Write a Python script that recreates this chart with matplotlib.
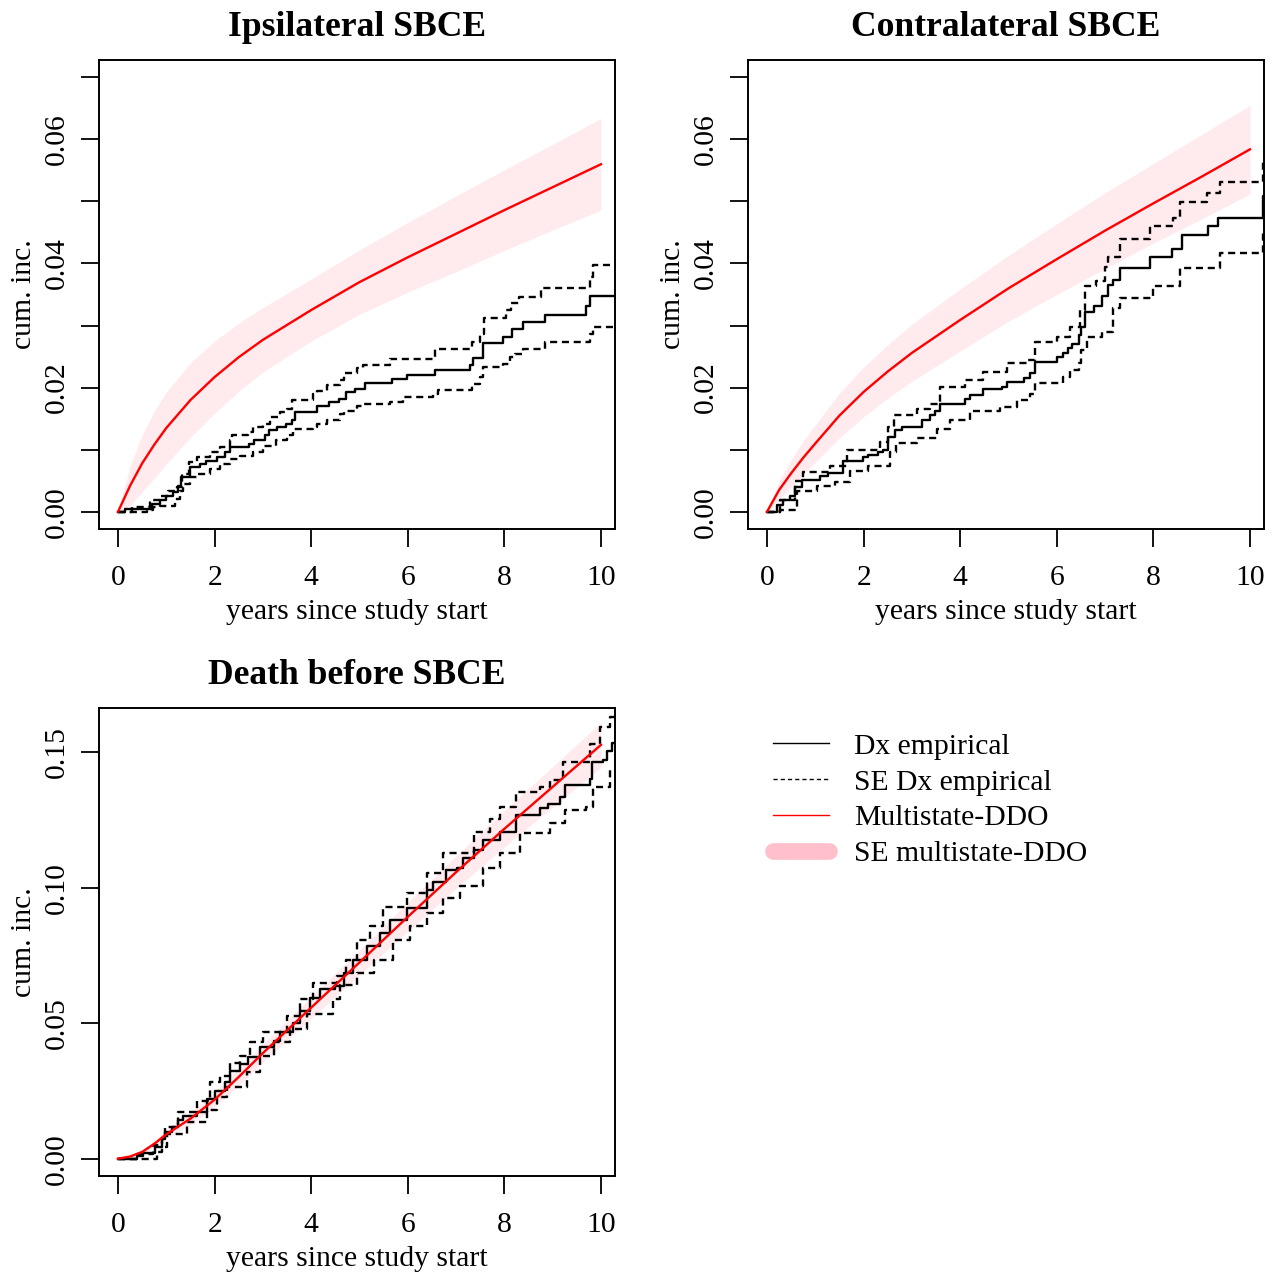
import matplotlib
matplotlib.use("Agg")
import matplotlib.pyplot as plt
from matplotlib.lines import Line2D

plt.rcParams['font.family'] = ['Liberation Serif', 'DejaVu Serif']

# Parametric model curves, common time grid
model_t = [0, 0.25, 0.5, 0.75, 1, 1.5, 2, 2.5, 3, 4, 5, 6, 7, 8, 9, 10]

ipsi_model = [0, .0042, .0078, .0108, .0135, .0180, .0217, .0249, .0277, .0325,
              .0370, .0410, .0448, .0486, .0523, .0560]
ipsi_band_hi = [0, .0074, .0124, .0162, .0193, .0240, .0275, .0304, .0329, .0375,
                .0422, .0466, .0509, .0551, .0592, .0634]
ipsi_band_lo = [0, .0010, .0032, .0054, .0077, .0120, .0159, .0194, .0225, .0275,
                .0318, .0354, .0387, .0421, .0454, .0486]

contra_model = [0, .0035, .0062, .0087, .0110, .0155, .0193, .0226, .0256, .0309,
                .0360, .0407, .0453, .0497, .0540, .0584]
contra_band_hi = [0, .0050, .0084, .0114, .0140, .0191, .0233, .0269, .0302, .0359,
                  .0413, .0464, .0514, .0561, .0608, .0655]
contra_band_lo = [0, .0020, .0040, .0060, .0080, .0119, .0153, .0183, .0210, .0259,
                  .0307, .0350, .0392, .0433, .0472, .0512]

death_model = [0, .0008, .0025, .0055, .0090, .0148, .0218, .0302, .0390, .0558,
               .0725, .0893, .1058, .1218, .1373, .1528]
death_band_hi = [0, .0011, .0032, .0067, .0106, .0170, .0245, .0333, .0424, .0598,
                 .0771, .0946, .1118, .1285, .1448, .1611]
death_band_lo = [0, .0005, .0018, .0043, .0074, .0126, .0191, .0271, .0356, .0518,
                 .0679, .0840, .0998, .1151, .1298, .1445]

# Empirical step curves: jump times and values after each jump
ipsi_t = [0, 0.14, 0.70, 0.87, 1.00, 1.14, 1.24, 1.31, 1.49, 1.69, 1.83, 2.04, 2.21,
          2.32, 2.71, 2.81, 3.05, 3.12, 3.29, 3.47, 3.60, 3.67, 4.12, 4.36, 4.57, 4.71,
          4.91, 5.12, 5.67, 5.98, 6.57, 7.29, 7.35, 7.55, 7.98, 8.15, 8.39, 8.84, 9.69,
          9.77, 10.5]
ipsi_est = [0, .0004, .0012, .0018, .0026, .0031, .0042, .0056, .0072, .0077, .0082,
            .0088, .0096, .0104, .0109, .0115, .0123, .0131, .0136, .0142, .0147, .0161,
            .0171, .0177, .0182, .0193, .0198, .0207, .0213, .0220, .0228, .0236, .0247,
            .0272, .0282, .0294, .0306, .0317, .0332, .0348, .0348]
ipsi_hi_t = [0, 0.28, 0.66, 0.87, 1.04, 1.21, 1.32, 1.46, 1.63, 1.90, 2.11, 2.32, 2.35,
             2.70, 2.80, 3.01, 3.15, 3.35, 3.49, 3.60, 4.04, 4.11, 4.32, 4.60, 4.67, 4.94,
             5.08, 5.63, 6.56, 7.33, 7.50, 7.57, 8.04, 8.14, 8.31, 8.76, 9.77, 9.84, 10.5]
ipsi_hi = [0, .0007, .0018, .0026, .0034, .0039, .0061, .0080, .0088, .0096, .0104,
           .0115, .0123, .0128, .0136, .0142, .0153, .0161, .0166, .0180, .0190, .0195,
           .0204, .0212, .0223, .0231, .0236, .0246, .0262, .0274, .0287, .0312, .0325,
           .0336, .0346, .0360, .0379, .0398, .0398]
ipsi_lo_t = [0, 0.59, 0.73, 0.87, 1.18, 1.28, 1.35, 1.49, 1.63, 1.90, 2.11, 2.32, 2.52,
             2.80, 3.01, 3.28, 3.49, 3.63, 4.04, 4.11, 4.32, 4.60, 4.67, 4.94, 5.08, 5.63,
             5.91, 6.53, 6.63, 7.33, 7.50, 7.55, 7.98, 8.11, 8.22, 8.39, 8.84, 9.77, 9.84,
             10.5]
ipsi_lo = [0, .0002, .0007, .0009, .0020, .0034, .0045, .0056, .0061, .0069, .0077,
           .0085, .0090, .0096, .0106, .0115, .0123, .0134, .0136, .0142, .0147, .0158,
           .0163, .0171, .0174, .0177, .0185, .0190, .0196, .0206, .0217, .0233, .0238,
           .0249, .0254, .0262, .0273, .0287, .0298, .0298]

contra_t = [0, 0.20, 0.34, 0.48, 0.58, 0.72, 1.10, 1.27, 1.58, 1.99, 2.10, 2.30, 2.41,
            2.51, 2.65, 2.79, 3.20, 3.37, 3.48, 3.58, 4.10, 4.20, 4.48, 4.86, 4.96, 5.31,
            5.44, 5.55, 6.00, 6.13, 6.24, 6.31, 6.45, 6.51, 6.58, 6.76, 6.93, 7.07, 7.17,
            7.31, 7.93, 8.38, 8.59, 9.14, 9.34, 10.27, 10.5]
contra_est = [0, .0010, .0018, .0026, .0039, .0051, .0058, .0062, .0082, .0088, .0092,
              .0096, .0100, .0120, .0131, .0136, .0147, .0155, .0163, .0174, .0182, .0188,
              .0197, .0201, .0209, .0215, .0223, .0241, .0249, .0255, .0263, .0271, .0285,
              .0298, .0322, .0332, .0347, .0366, .0374, .0393, .0411, .0424, .0446, .0460,
              .0473, .0508, .0508]
contra_hi_t = [0, 0.27, 0.58, 0.75, 1.30, 1.65, 2.34, 2.51, 2.62, 3.10, 3.37, 3.58, 4.10,
               4.48, 4.96, 5.38, 5.55, 6.00, 6.27, 6.48, 6.58, 6.82, 6.99, 7.07, 7.31,
               7.93, 8.41, 8.55, 9.10, 9.38, 10.27, 10.5]
contra_hi = [0, .0018, .0050, .0064, .0074, .0099, .0112, .0136, .0155, .0166, .0174,
             .0201, .0212, .0225, .0239, .0244, .0274, .0282, .0298, .0325, .0363, .0371,
             .0395, .0410, .0439, .0461, .0473, .0499, .0514, .0531, .0563, .0563]
contra_lo_t = [0, 0.27, 0.61, 1.03, 1.41, 1.72, 2.10, 2.55, 2.68, 3.10, 3.51, 3.79, 4.20,
               4.82, 5.17, 5.44, 5.55, 6.13, 6.27, 6.45, 6.51, 6.62, 6.93, 7.17, 7.31,
               8.00, 8.55, 9.38, 10.27, 10.5]
contra_lo = [0, .0002, .0034, .0042, .0047, .0066, .0074, .0096, .0110, .0118, .0134,
             .0147, .0163, .0169, .0180, .0190, .0208, .0217, .0228, .0239, .0260, .0282,
             .0290, .0328, .0344, .0363, .0393, .0417, .0449, .0449]

death_t = [0, 0.39, 0.52, 0.77, 0.90, 0.97, 1.11, 1.25, 1.35, 1.63, 1.84, 2.01, 2.21,
           2.32, 2.53, 2.70, 2.94, 3.22, 3.35, 3.63, 3.77, 3.97, 4.18, 4.49, 4.67, 4.87,
           5.15, 5.42, 5.63, 5.98, 6.39, 6.53, 6.80, 7.01, 7.15, 7.36, 7.56, 7.91, 8.25,
           8.74, 8.91, 9.15, 9.25, 9.77, 9.81, 10.05, 10.12, 10.22, 10.5]
death_est = [0, .0009, .0022, .0042, .0074, .0098, .0116, .0141, .0159, .0172, .0221,
             .0251, .0282, .0325, .0349, .0374, .0411, .0435, .0466, .0502, .0545, .0594,
             .0625, .0637, .0686, .0735, .0784, .0833, .0882, .0925, .0993, .1023, .1066,
             .1072, .1109, .1140, .1176, .1207, .1268, .1293, .1311, .1336, .1379, .1403,
             .1464, .1471, .1507, .1534, .1534]
death_hi_t = [0, 0.39, 0.73, 0.90, 0.97, 1.25, 1.63, 1.90, 2.11, 2.32, 2.53, 2.73, 3.01,
              3.49, 3.77, 4.04, 4.53, 4.73, 4.94, 5.22, 5.49, 5.98, 6.39, 6.73, 7.36, 7.70,
              7.91, 8.25, 8.74, 8.94, 9.22, 9.77, 9.98, 10.19, 10.5]
death_hi = [0, .0019, .0049, .0086, .0116, .0172, .0214, .0282, .0306, .0355, .0380,
            .0429, .0466, .0527, .0588, .0650, .0674, .0735, .0809, .0858, .0931, .0980,
            .1054, .1128, .1207, .1256, .1299, .1354, .1372, .1397, .1464, .1532, .1593,
            .1630, .1630]
death_lo_t = [0, 0.80, 0.90, 1.01, 1.42, 1.84, 2.04, 2.25, 2.66, 2.94, 3.22, 3.56, 3.91,
              4.46, 4.60, 4.94, 5.29, 5.70, 6.05, 6.39, 6.73, 7.08, 7.56, 7.91, 8.32, 8.94,
              9.25, 9.69, 9.84, 10.19, 10.5]
death_lo = [0, .0025, .0042, .0091, .0135, .0178, .0227, .0263, .0319, .0380, .0429,
            .0478, .0533, .0588, .0643, .0686, .0735, .0809, .0858, .0907, .0962, .1005,
            .1072, .1128, .1201, .1238, .1287, .1299, .1372, .1434, .1434]

x_ticks = [0, 2, 4, 6, 8, 10]
small_yticks = [0, .01, .02, .03, .04, .05, .06, .07]
small_ylabels = ['0.00', '', '0.02', '', '0.04', '', '0.06', '']
death_yticks = [0, .05, .10, .15]
death_ylabels = ['0.00', '0.05', '0.10', '0.15']

legend_labels = ['Dx empirical', 'SE Dx empirical', 'Multistate-DDO', 'SE multistate-DDO']

FS = 21.3
W, H = 1280, 1275
fig = plt.figure(figsize=(W / 100, H / 100), dpi=100)


def px_rect(left, top, right, bottom):
    return [left / W, 1 - bottom / H, (right - left) / W, (bottom - top) / H]


def draw_panel(rect, title, steps, model, band_hi, band_lo, ylim, yticks, ylabels):
    ax = fig.add_axes(rect)
    ax.fill_between(model_t, band_lo, band_hi, color='pink', alpha=0.32, lw=0)
    (t, est), (thi, hi), (tlo, lo) = steps
    ax.step(t, est, where='post', color='black', lw=1.7)
    ax.step(thi, hi, where='post', color='black', lw=1.7, ls=(0, (3, 2)))
    ax.step(tlo, lo, where='post', color='black', lw=1.7, ls=(0, (3, 2)))
    ax.plot(model_t, model, color='red', lw=1.7)

    ax.set_xlim(-0.395, 10.29)
    ax.set_ylim(*ylim)
    ax.set_xticks(x_ticks)
    ax.set_xticklabels([str(v) for v in x_ticks])
    ax.set_yticks(yticks)
    ax.set_yticklabels(ylabels, rotation=90, va='center')
    ax.tick_params(direction='out', length=13, width=1.3, labelsize=FS, pad=13)
    ax.tick_params(axis='y', pad=8)
    for s in ax.spines.values():
        s.set_linewidth(1.4)
    ax.set_title(title, fontsize=25.6, fontweight='bold', pad=17)
    ax.set_xlabel('years since study start', fontsize=FS, labelpad=6)
    ax.set_ylabel('cum. inc.', fontsize=FS, labelpad=5)
    return ax


draw_panel(px_rect(99, 60, 615, 529), 'Ipsilateral SBCE',
           [(ipsi_t, ipsi_est), (ipsi_hi_t, ipsi_hi), (ipsi_lo_t, ipsi_lo)],
           ipsi_model, ipsi_band_hi, ipsi_band_lo, (-0.0028, 0.0728),
           small_yticks, small_ylabels)
draw_panel(px_rect(748, 60, 1264, 529), 'Contralateral SBCE',
           [(contra_t, contra_est), (contra_hi_t, contra_hi), (contra_lo_t, contra_lo)],
           contra_model, contra_band_hi, contra_band_lo, (-0.0028, 0.0728),
           small_yticks, small_ylabels)
draw_panel(px_rect(99, 708, 615, 1176), 'Death before SBCE',
           [(death_t, death_est), (death_hi_t, death_hi), (death_lo_t, death_lo)],
           death_model, death_band_hi, death_band_lo, (-0.0064, 0.1664),
           death_yticks, death_ylabels)

handles = [
    Line2D([], [], color='black', lw=1.0),
    Line2D([], [], color='black', lw=1.0, ls=(0, (3, 2.2))),
    Line2D([], [], color='red', lw=1.0),
    Line2D([], [], color='pink', lw=12, solid_capstyle='round'),
]
fig.legend(handles, legend_labels, loc='upper left',
           bbox_to_anchor=(773 / W, 1 - 733 / H), frameon=False, fontsize=FS,
           handlelength=1.9, handletextpad=0.85, labelspacing=0.31,
           borderpad=0, borderaxespad=0)

fig.savefig('out.png', dpi=100)
